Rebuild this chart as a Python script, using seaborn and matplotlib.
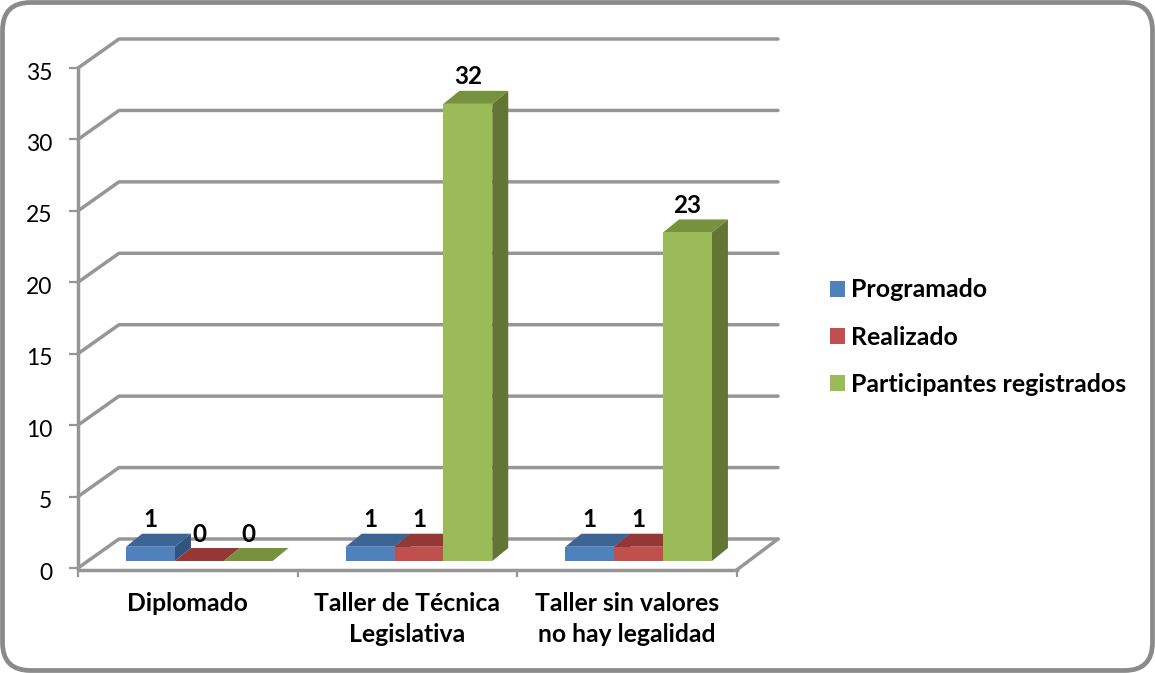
import matplotlib
matplotlib.use("Agg")
import matplotlib.pyplot as plt
import matplotlib.transforms as mtransforms
from matplotlib.patches import FancyBboxPatch, Polygon
import pandas as pd
import seaborn as sns

# data
cursos = ["Diplomado", "Taller de Técnica\nLegislativa", "Taller sin valores\nno hay legalidad"]
programado = [1, 1, 1]
realizado = [0, 1, 1]
participantes = [0, 32, 23]
series = ["Programado", "Realizado", "Participantes registrados"]
y_ticks = [0, 5, 10, 15, 20, 25, 30, 35]

front_colors = ["#4F81BD", "#C0504D", "#9BBB59"]
top_colors = ["#3C6494", "#953735", "#76923C"]
side_colors = ["#2F5481", "#7E3230", "#637534"]
line_color = "#969696"
font_name = "Lato"

data = pd.DataFrame({"Curso": cursos, series[0]: programado, series[1]: realizado, series[2]: participantes})
data = data.melt(id_vars="Curso", var_name="Serie", value_name="Valor")

sns.set_theme(style="white")
plt.rcParams["font.family"] = font_name

W, H = 1155, 673
fig = plt.figure(figsize=(W / 100, H / 100), dpi=100)
fig.patch.set_facecolor("white")
ax = fig.add_axes([78 / W, (H - 568) / H, (737 - 78) / W, 500 / H])
ax.patch.set_alpha(0)

sns.barplot(data=data, x="Curso", y="Valor", hue="Serie", order=cursos, hue_order=series,
            palette=front_colors, saturation=1, gap=0, width=0.667, linewidth=0, ax=ax)

ax.set_xlim(-0.5, 2.5)
ax.set_ylim(0, 35)
ax.set_xlabel("")
ax.set_ylabel("")

px_x = (737 - 78) / 3   # pixels per category
px_y = 500 / 35         # pixels per unit

# back wall and floor of the fake 3d box
wall_dx = 41 / px_x
wall_dy = 29 / px_y
for v in y_ticks:
    ax.plot([-0.5, -0.5 + wall_dx, 2.5 + wall_dx], [v, v + wall_dy, v + wall_dy], color=line_color,
            lw=2.5, clip_on=False, zorder=1, solid_capstyle="round", solid_joinstyle="round")
ax.plot([2.5, 2.5 + wall_dx], [-0.12, wall_dy], color=line_color, lw=2.5, clip_on=False, zorder=1,
        solid_capstyle="round")

# bars sit in the middle of the floor
bar_shift = ax.transData + mtransforms.Affine2D().translate(11.5, 7)
bar_dx = 16 / px_x
bar_dy = 13 / px_y

for i, cont in enumerate(ax.containers):
    for bar in cont:
        x0 = bar.get_x()
        x1 = x0 + bar.get_width()
        h = bar.get_height()
        bar.set_transform(bar_shift)
        bar.set_clip_on(False)
        bar.set_zorder(4 + i + 0.5)
        side = [(x1, 0), (x1 + bar_dx, bar_dy), (x1 + bar_dx, h + bar_dy), (x1, h)]
        top = [(x0, h), (x0 + bar_dx, h + bar_dy), (x1 + bar_dx, h + bar_dy), (x1, h)]
        ax.add_patch(Polygon(side, closed=True, fc=side_colors[i], ec="none", transform=bar_shift,
                             clip_on=False, zorder=4 + i))
        ax.add_patch(Polygon(top, closed=True, fc=top_colors[i], ec="none", transform=bar_shift,
                             clip_on=False, zorder=4 + i))
        ax.annotate(f"{h:.0f}", xy=(x0 + bar.get_width() / 2, h), xycoords=bar_shift,
                    xytext=(0, 19.4), textcoords="offset points", ha="center", va="center",
                    fontsize=17.5, fontweight="bold", color="black", zorder=10)

for s in ["top", "right"]:
    ax.spines[s].set_visible(False)
for s in ["left", "bottom"]:
    ax.spines[s].set_color(line_color)
    ax.spines[s].set_linewidth(2.5)
    ax.spines[s].set_zorder(2)
ax.spines["bottom"].set_position(("outward", 1.6))

ax.set_yticks(y_ticks)
ax.tick_params(axis="y", left=True, length=6.5, width=1.6, color=line_color, labelsize=16.5,
               labelcolor="black", pad=12)
for lab in ax.get_yticklabels():
    lab.set_transform(lab.get_transform() + mtransforms.Affine2D().translate(0, -3))
ax.set_xticks([-0.5, 0.5, 1.5, 2.5], labels=[])
ax.set_xticks([0, 1, 2], labels=cursos, minor=True)
ax.tick_params(axis="x", which="major", bottom=True, length=5, width=1.6, color=line_color)
ax.tick_params(axis="x", which="minor", bottom=False, length=0, labelsize=17.8, labelcolor="black", pad=16)
for lab in ax.get_xticklabels(minor=True):
    lab.set_fontweight("bold")
    lab.set_linespacing(1.42)

sns.move_legend(ax, "upper left", bbox_to_anchor=(808 / W, (H - 256) / H), bbox_transform=fig.transFigure,
                frameon=False, title=None, labelspacing=0.98, handlelength=0.6, handleheight=0.6,
                handletextpad=0.24, prop={"family": font_name, "weight": "bold", "size": 17.9})
for t in ax.get_legend().get_texts():
    t.set_color("black")

# rounded outer frame
fig.add_artist(FancyBboxPatch((2.5, 2.5), W - 5, H - 5, boxstyle="round,pad=0,rounding_size=28",
                              fc="none", ec="#8A8A8A", lw=3.4, transform=mtransforms.IdentityTransform()))

fig.savefig("out.png", dpi=100)
